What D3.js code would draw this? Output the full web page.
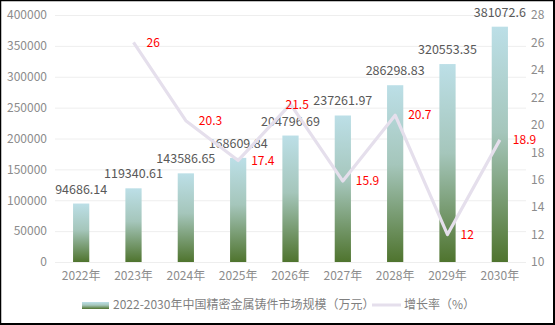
<!DOCTYPE html>
<html><head><meta charset="utf-8">
<script src="https://cdn.jsdelivr.net/npm/d3@7"></script>
<style>body{margin:0;background:#fff}svg{display:block}</style>
</head><body>
<script>
const years = ["2022年","2023年","2024年","2025年","2026年","2027年","2028年","2029年","2030年"];
const marketSize = [94686.14,119340.61,143586.65,168609.84,204796.69,237261.97,286298.83,320553.35,381072.6];
const growthRate = [null,26,20.3,17.4,21.5,15.9,20.7,12,18.9];
const leftTicks = [0,50000,100000,150000,200000,250000,300000,350000,400000];
const rightTicks = [10,12,14,16,18,20,22,24,26,28];
const seriesNames = ["2022-2030年中国精密金属铸件市场规模（万元）","增长率（%）"];

const W=555,H=325;
const font='"Microsoft YaHei","Noto Sans CJK SC","Noto Sans",sans-serif';
const svg=d3.select("body").append("svg").attr("width",W).attr("height",H);
const defs=svg.append("defs");
const g=defs.append("linearGradient").attr("id","barGrad").attr("x1",0).attr("y1",0).attr("x2",0).attr("y2",1);
g.append("stop").attr("offset","0%").attr("stop-color","#bcdfe7");
g.append("stop").attr("offset","45%").attr("stop-color","#a5c6bb");
g.append("stop").attr("offset","100%").attr("stop-color","#4f742e");

svg.append("rect").attr("x",0.5).attr("y",0.5).attr("width",W-2).attr("height",H-2).attr("fill","#fff").attr("stroke","#000").attr("stroke-width",1);
svg.append("rect").attr("x",0).attr("y",0).attr("width",W).attr("height",H).attr("fill","none").attr("stroke","#000").attr("stroke-width",2.5);

const x=d3.scaleBand().domain(years).range([55,526]).paddingInner(0.69).paddingOuter(0.345);
const y=d3.scaleLinear().domain([0,400000]).range([262,15]);
const y2=d3.scaleLinear().domain([10,28]).range([262,15]);
const cx=i=>x(years[i])+x.bandwidth()/2;

// grid
svg.append("g").selectAll("line").data(leftTicks).join("line")
 .attr("x1",55).attr("x2",526).attr("y1",d=>y(d)+0.5).attr("y2",d=>y(d)+0.5)
 .attr("stroke","#eeeeee").attr("stroke-width",1);

// left axis
const la=svg.append("g").attr("transform","translate(47,0)").call(d3.axisLeft(y).tickValues(leftTicks).tickSize(0).tickPadding(0).tickFormat(d=>d));
la.select(".domain").remove();
la.selectAll("text").attr("fill","#8c8c8c").style("font-family",font).style("font-size","12px");

// right axis
const ra=svg.append("g").attr("transform","translate(531,0)").call(d3.axisRight(y2).tickValues(rightTicks).tickSize(0).tickPadding(0));
ra.select(".domain").remove();
ra.selectAll("text").attr("fill","#8c8c8c").style("font-family",font).style("font-size","12px");

// bottom axis
const ba=svg.append("g").attr("transform","translate(0,268)").call(d3.axisBottom(x).tickSize(0).tickPadding(3));
ba.select(".domain").remove();
ba.selectAll("text").attr("fill","#8c8c8c").style("font-family",font).style("font-size","12px");

// bars
svg.append("g").selectAll("rect").data(marketSize).join("rect")
 .attr("x",(d,i)=>x(years[i])).attr("width",x.bandwidth())
 .attr("y",d=>y(d)).attr("height",d=>y(0)-y(d)).attr("fill","url(#barGrad)");

// bar labels
svg.append("g").selectAll("text").data(marketSize).join("text")
 .attr("x",(d,i)=>cx(i)).attr("y",d=>y(d)-10)
 .attr("text-anchor","middle").attr("fill","#595959")
 .style("font-family",font).style("font-size","12.5px").text(d=>d);

// line
const pts=growthRate.map((v,i)=>({v,i})).filter(d=>d.v!=null);
const line=d3.line().x(d=>cx(d.i)).y(d=>y2(d.v));
svg.append("path").datum(pts).attr("d",line).attr("fill","none")
 .attr("stroke","#e5dfec").attr("stroke-width",3.2).attr("stroke-linejoin","round");

// the 2026 label sits on its point (as in the reference); others to the right
svg.append("g").selectAll("text").data(pts).join("text")
 .attr("x",d=>d.i===4 ? cx(d.i)-5 : cx(d.i)+13).attr("y",d=>y2(d.v)+(d.i===4?1:0))
 .attr("dy","0.35em").attr("fill","#ff0000")
 .style("font-family",font).style("font-size","12px").text(d=>d.v);

// legend
const lg=svg.append("g");
lg.append("rect").attr("x",82).attr("y",302).attr("width",27).attr("height",7).attr("fill","url(#barGrad)");
lg.append("text").attr("x",113).attr("y",305).attr("dy","0.35em").attr("fill","#7f7f7f")
 .style("font-family",font).style("font-size","12px").text(seriesNames[0]);
lg.append("line").attr("x1",372).attr("x2",401).attr("y1",305).attr("y2",305).attr("stroke","#e5dfec").attr("stroke-width",3);
lg.append("text").attr("x",404).attr("y",305).attr("dy","0.35em").attr("fill","#7f7f7f")
 .style("font-family",font).style("font-size","12px").text(seriesNames[1]);
</script>
</body></html>
